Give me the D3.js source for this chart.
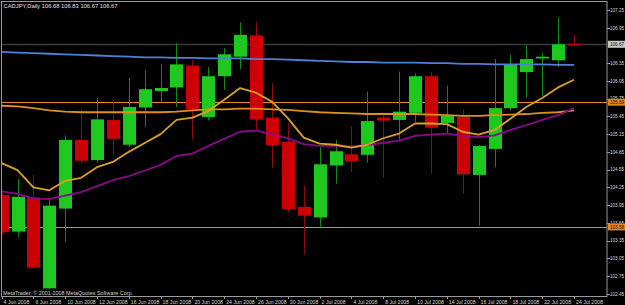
<!DOCTYPE html>
<html>
<head>
<meta charset="utf-8">
<script src="https://cdn.jsdelivr.net/npm/d3@7"></script>
<style>
  html, body { margin: 0; padding: 0; background: #000; }
  svg { display: block; }
  text { font-family: "Liberation Sans", "DejaVu Sans", sans-serif; }
</style>
</head>
<body>
<div id="chart"></div>
<script>
// CADJPY daily, 4 Jun - 24 Jul 2008
const days = ["4 Jun 2008","5 Jun 2008","6 Jun 2008","9 Jun 2008","10 Jun 2008","11 Jun 2008","12 Jun 2008","13 Jun 2008",
  "16 Jun 2008","17 Jun 2008","18 Jun 2008","19 Jun 2008","20 Jun 2008","23 Jun 2008","24 Jun 2008","25 Jun 2008",
  "26 Jun 2008","27 Jun 2008","30 Jun 2008","1 Jul 2008","2 Jul 2008","3 Jul 2008","4 Jul 2008","7 Jul 2008",
  "8 Jul 2008","9 Jul 2008","10 Jul 2008","11 Jul 2008","14 Jul 2008","15 Jul 2008","16 Jul 2008","17 Jul 2008",
  "18 Jul 2008","21 Jul 2008","22 Jul 2008","23 Jul 2008","24 Jul 2008"];

const open  = [104.12,103.50,104.08,102.54,103.89,105.05,104.71,105.39,104.97,105.60,105.88,105.94,106.31,105.44,106.13,106.46,
  106.82,105.43,105.02,103.92,103.74,104.62,104.81,104.80,105.43,105.39,105.51,106.13,105.34,105.44,104.46,104.90,
  105.59,106.20,106.43,106.40,106.68];
const high  = [104.16,104.39,104.46,104.07,105.13,105.56,105.76,105.70,106.10,106.23,106.34,106.69,106.40,106.28,106.61,107.04,
  107.04,106.01,105.34,104.28,104.93,105.05,105.28,105.87,105.47,106.21,106.18,106.20,105.97,105.57,104.97,106.42,
  106.49,106.66,106.53,107.12,106.83];
const low   = [103.45,103.41,102.87,102.52,103.33,104.66,104.67,104.80,104.93,105.27,105.68,105.61,105.05,105.38,105.90,106.25,
  105.22,104.58,103.82,103.12,103.57,104.31,104.51,104.67,104.41,105.05,105.36,104.48,105.17,104.14,103.60,104.59,
  105.56,105.77,105.80,106.29,106.67];
const close = [103.49,104.09,102.89,103.94,105.05,104.70,105.40,105.07,105.61,105.91,105.93,106.33,105.57,106.13,106.50,106.83,
  105.40,104.96,103.88,103.77,104.64,104.86,104.69,105.37,105.38,105.53,106.13,105.26,105.46,104.47,104.95,105.59,
  106.32,106.42,106.46,106.67,106.67];

// moving averages (one value per bar)
const maFast = [104.66,104.54,104.25,104.20,104.36,104.41,104.59,104.68,104.85,105.00,105.15,105.39,105.43,105.54,105.73,105.93,
  105.85,105.70,105.42,105.09,104.99,104.97,104.92,104.97,105.08,105.16,105.33,105.33,105.32,105.19,105.14,105.22,
  105.41,105.61,105.76,105.94,106.07];
const maPurple = [104.18,104.14,104.06,104.05,104.11,104.17,104.27,104.37,104.44,104.53,104.63,104.78,104.82,104.95,105.07,105.19,
  105.21,105.15,105.08,104.98,104.95,104.95,104.94,104.97,105.00,105.04,105.12,105.14,105.16,105.12,105.10,105.13,
  105.22,105.30,105.39,105.47,105.59];
const maMid = [105.63,105.62,105.59,105.55,105.53,105.52,105.52,105.52,105.52,105.52,105.52,105.53,105.55,105.57,105.57,105.58,
  105.58,105.57,105.56,105.54,105.52,105.51,105.50,105.49,105.49,105.49,105.49,105.48,105.47,105.46,105.46,105.47,
  105.48,105.49,105.51,105.52,105.55];
const maLong = [106.54,106.53,106.52,106.51,106.50,106.49,106.48,106.47,106.46,106.45,106.45,106.44,106.44,106.43,106.43,106.43,
  106.42,106.42,106.41,106.40,106.39,106.38,106.37,106.37,106.36,106.36,106.36,106.35,106.35,106.34,106.34,106.33,
  106.33,106.33,106.33,106.32,106.32];

const levels = [105.69, 103.58];
const bid = 106.67;
const yTicks = [107.25,106.95,106.35,106.05,105.75,105.45,105.15,104.85,104.55,104.25,103.95,103.65,103.35,103.05,102.75,102.45];
const xTicks = ["4 Jun 2008","6 Jun 2008","10 Jun 2008","12 Jun 2008","16 Jun 2008","18 Jun 2008","20 Jun 2008","24 Jun 2008",
  "26 Jun 2008","30 Jun 2008","2 Jul 2008","4 Jul 2008","8 Jul 2008","10 Jul 2008","14 Jul 2008","16 Jul 2008",
  "18 Jul 2008","22 Jul 2008","24 Jul 2008"];
const title = "CADJPY,Daily  106.68 106.83 106.67 106.67";
const credit = "MetaTrader, \u00a9 2001-2008 MetaQuotes Software Corp.";

const W = 625, H = 305;
const plot = {left: 1.5, right: 607, top: 1, bottom: 296};

const svg = d3.select("#chart").append("svg")
  .attr("width", W).attr("height", H);

svg.append("rect").attr("width", W).attr("height", H).attr("fill", "#000");

svg.append("clipPath").attr("id", "clip")
  .append("rect")
    .attr("x", plot.left).attr("y", plot.top)
    .attr("width", plot.right - plot.left).attr("height", plot.bottom - plot.top);

var x = d3.scalePoint().domain(days).range([1.6, 574]);
var y = d3.scaleLinear().domain([102.45, 107.25]).range([293.7, 10]);

const g = svg.append("g").attr("clip-path", "url(#clip)");

// bid line + level lines
g.append("line")
  .attr("x1", plot.left).attr("x2", plot.right)
  .attr("y1", Math.round(y(bid)) + 0.5).attr("y2", Math.round(y(bid)) + 0.5)
  .attr("stroke", "#3a3a3a").attr("stroke-width", 1.5);

g.selectAll(".level").data(levels).join("line")
  .attr("class", "level")
  .attr("x1", plot.left).attr("x2", plot.right)
  .attr("y1", d => Math.round(y(d)) + 0.5).attr("y2", d => Math.round(y(d)) + 0.5)
  .attr("stroke", "#e8861a").attr("stroke-width", 1.2);

// candles
const bars = days.map((d, i) => ({d, o: open[i], h: high[i], l: low[i], c: close[i]}));
const bodyW = 13;

g.selectAll(".wick").data(bars).join("line")
  .attr("class", "wick")
  .attr("x1", d => Math.round(x(d.d)) + 0.5).attr("x2", d => Math.round(x(d.d)) + 0.5)
  .attr("y1", d => y(d.h)).attr("y2", d => y(d.l))
  .attr("stroke", d => d.c >= d.o ? "#118a11" : "#8c0a0a")
  .attr("stroke-width", 1);

g.selectAll(".body").data(bars).join("rect")
  .attr("class", "body")
  .attr("x", d => Math.round(x(d.d)) - 6)
  .attr("width", bodyW)
  .attr("y", d => y(Math.max(d.o, d.c)))
  .attr("height", d => Math.max(1.2, Math.abs(y(d.o) - y(d.c))))
  .attr("fill", d => d.c >= d.o ? "#1ec81e" : "#cc0000");

// moving averages
const line = vals => d3.line().x((d, i) => x(days[i])).y(d => y(d))(vals);
const mas = [
  {vals: maLong, color: "#4f80d6", w: 1.8},
  {vals: maMid, color: "#e0901a", w: 1.8},
  {vals: maPurple, color: "#8a0a8a", w: 1.8},
  {vals: maFast, color: "#daa028", w: 1.8}
];
g.selectAll(".ma").data(mas).join("path")
  .attr("class", "ma")
  .attr("d", d => line(d.vals))
  .attr("fill", "none")
  .attr("stroke", d => d.color)
  .attr("stroke-width", d => d.w)
  .attr("stroke-linejoin", "round");

// frame
svg.append("rect")
  .attr("x", plot.left).attr("y", plot.top + 0.5)
  .attr("width", plot.right - plot.left).attr("height", plot.bottom - plot.top)
  .attr("fill", "none").attr("stroke", "#9a9a9a").attr("stroke-width", 1);

// ---- right price axis ----
svg.selectAll(".ytick").data(yTicks).join("line")
  .attr("class", "ytick")
  .attr("x1", plot.right).attr("x2", plot.right + 3)
  .attr("y1", d => Math.round(y(d)) + 0.5).attr("y2", d => Math.round(y(d)) + 0.5)
  .attr("stroke", "#9a9a9a");

svg.selectAll(".ylab").data(yTicks).join("text")
  .attr("class", "ylab")
  .attr("x", 610).attr("y", d => y(d) + 1.8)
  .attr("font-size", 4.6)
  .attr("fill", "#d8d8d8")
  .text(d => d.toFixed(2));

// highlighted prices
const tags = [
  {v: bid, bg: "#c8c8c8"},
  {v: levels[0], bg: "#e8861a"},
  {v: levels[1], bg: "#e8861a"}
];
svg.selectAll(".tagbg").data(tags).join("rect")
  .attr("class", "tagbg")
  .attr("x", 608).attr("y", d => y(d.v) - 3.5)
  .attr("width", 17).attr("height", 7)
  .attr("fill", d => d.bg);
svg.selectAll(".tag").data(tags).join("text")
  .attr("class", "tag")
  .attr("x", 610).attr("y", d => y(d.v) + 1.8)
  .attr("font-size", 4.6)
  .attr("fill", "#111")
  .text(d => d.v.toFixed(2));

// ---- bottom time axis ----
svg.selectAll(".xtick").data(xTicks).join("line")
  .attr("class", "xtick")
  .attr("x1", d => Math.round(x(d)) + 0.5).attr("x2", d => Math.round(x(d)) + 0.5)
  .attr("y1", plot.bottom).attr("y2", plot.bottom + 3)
  .attr("stroke", "#9a9a9a");

svg.selectAll(".xlab").data(xTicks).join("text")
  .attr("class", "xlab")
  .attr("x", d => x(d) + 2).attr("y", 303.5)
  .attr("font-size", 5.2)
  .attr("fill", "#d8d8d8")
  .text(d => d);

// title + credit
svg.append("text")
  .attr("x", 3.5).attr("y", 7.5)
  .attr("font-size", 5.8)
  .attr("fill", "#e0e0e0")
  .text(title);

svg.append("text")
  .attr("x", 3).attr("y", 294.5)
  .attr("font-size", 5.4)
  .attr("fill", "#d0d0d0")
  .text(credit);
</script>
</body>
</html>
